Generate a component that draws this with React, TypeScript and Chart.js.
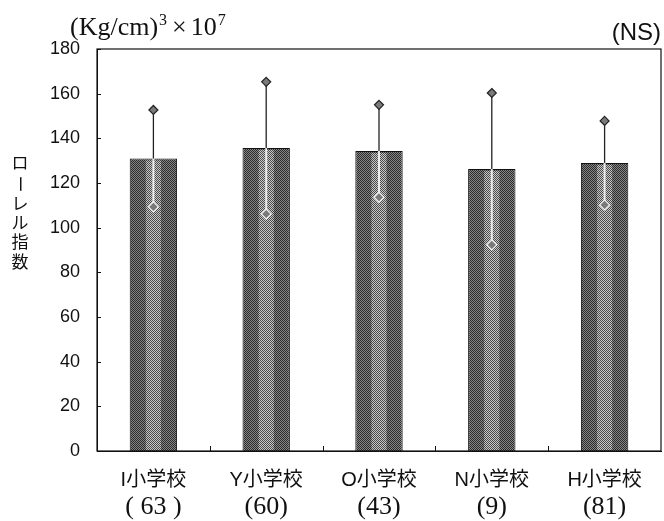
import React, { useEffect, useRef } from "react";
import { Chart, registerables } from "chart.js";

Chart.register(...registerables);

const categories = ["I小学校", "Y小学校", "O小学校", "N小学校", "H小学校"];
const sampleSizes = ["( 63 )", "(60)", "(43)", "(9)", "(81)"];
const means = [131, 135.7, 134.3, 126.3, 129];
const sds = [21.7, 29.6, 20.7, 34, 18.8];
const yTicks = [0, 20, 40, 60, 80, 100, 120, 140, 160, 180];
const yTitleChars = ["ロ", "ー", "レ", "ル", "指", "数"];

const SANS = '"Liberation Sans", "Noto Sans CJK JP", sans-serif';
const SERIF = '"Liberation Serif", "DejaVu Serif", serif';

function makePattern(a: string, b: string): CanvasPattern | string {
  const c = document.createElement("canvas");
  c.width = 2;
  c.height = 2;
  const g = c.getContext("2d");
  if (!g) return a;
  g.fillStyle = b;
  g.fillRect(0, 0, 2, 2);
  g.fillStyle = a;
  g.fillRect(0, 0, 1, 1);
  g.fillRect(1, 1, 1, 1);
  const p = g.createPattern(c, "repeat");
  return p || a;
}

function diamond(ctx: CanvasRenderingContext2D, x: number, y: number, r: number, fill: string, stroke: string) {
  ctx.beginPath();
  ctx.moveTo(x, y - r);
  ctx.lineTo(x + r, y);
  ctx.lineTo(x, y + r);
  ctx.lineTo(x - r, y);
  ctx.closePath();
  ctx.fillStyle = fill;
  ctx.fill();
  ctx.lineWidth = 1.2;
  ctx.strokeStyle = stroke;
  ctx.stroke();
}

const decorPlugin = {
  id: "decor",
  afterDatasetsDraw(chart: any) {
    const ctx: CanvasRenderingContext2D = chart.ctx;
    const area = chart.chartArea;
    const xs = chart.scales.x;
    const ys = chart.scales.y;
    ctx.save();
    // lighter speckled centre band of each bar
    const band = makePattern("#4a4a4a", "#c8c8c8");
    const meta = chart.getDatasetMeta(0);
    meta.data.forEach((bar: any) => {
      const w = bar.width * 0.32;
      ctx.fillStyle = band as any;
      ctx.fillRect(bar.x - w / 2, bar.y + 2, w, bar.base - bar.y - 3);
    });
    // frame
    ctx.strokeStyle = "#111";
    ctx.lineWidth = 1.2;
    ctx.strokeRect(area.left, area.top, area.right - area.left, area.bottom - area.top);
    // inward y ticks
    ctx.lineWidth = 1;
    yTicks.forEach((v) => {
      const y = Math.round(ys.getPixelForValue(v)) + 0.5;
      ctx.beginPath();
      ctx.moveTo(area.left, y);
      ctx.lineTo(area.left + 4, y);
      ctx.stroke();
    });
    // inward x ticks at category boundaries
    const n = categories.length;
    const cw = (area.right - area.left) / n;
    for (let i = 1; i < n; i++) {
      const x = Math.round(area.left + cw * i) + 0.5;
      ctx.beginPath();
      ctx.moveTo(x, area.bottom);
      ctx.lineTo(x, area.bottom - 5);
      ctx.stroke();
    }
    // error bars
    means.forEach((m, i) => {
      const x = xs.getPixelForValue(i);
      const yM = ys.getPixelForValue(m);
      const yT = ys.getPixelForValue(m + sds[i]);
      const yL = ys.getPixelForValue(m - sds[i]);
      ctx.strokeStyle = "rgba(240,240,240,0.95)";
      ctx.lineWidth = 2;
      ctx.beginPath();
      ctx.moveTo(x, yM);
      ctx.lineTo(x, yL);
      ctx.stroke();
      diamond(ctx, x, yL, 5, "#7a7a7a", "#f4f4f4");
      ctx.strokeStyle = "#222";
      ctx.lineWidth = 1.3;
      ctx.beginPath();
      ctx.moveTo(x, yM);
      ctx.lineTo(x, yT);
      ctx.stroke();
      diamond(ctx, x, yT, 4.5, "#7a7a7a", "#222");
    });
    // x labels
    ctx.fillStyle = "#111";
    ctx.textAlign = "center";
    ctx.textBaseline = "middle";
    categories.forEach((c, i) => {
      const x = xs.getPixelForValue(i);
      ctx.font = `20px ${SANS}`;
      ctx.fillText(c, x, area.bottom + 29);
      ctx.font = `26px ${SERIF}`;
      ctx.fillText(sampleSizes[i], x, area.bottom + 56);
    });
    // y title vertical
    ctx.font = `17px "Noto Sans CJK JP", sans-serif`;
    const yPos = [163, 184, 204, 223, 242, 262];
    yTitleChars.forEach((ch, i) => {
      if (ch === "ー") {
        ctx.save();
        ctx.translate(20, yPos[i]);
        ctx.rotate(Math.PI / 2);
        ctx.fillText(ch, 0, 0);
        ctx.restore();
      } else {
        ctx.fillText(ch, 20, yPos[i]);
      }
    });
    // unit label
    ctx.textAlign = "left";
    ctx.textBaseline = "alphabetic";
    let x0 = 70;
    const base = 35;
    ctx.font = `26px ${SERIF}`;
    ctx.fillText("(Kg/cm)", x0, base);
    x0 += ctx.measureText("(Kg/cm)").width + 1;
    ctx.font = `16px ${SERIF}`;
    ctx.fillText("3", x0, base - 10);
    x0 += ctx.measureText("3").width + 5;
    ctx.font = `26px ${SERIF}`;
    ctx.fillText("×", x0, base);
    x0 += ctx.measureText("×").width + 4;
    ctx.fillText("10", x0, base);
    x0 += ctx.measureText("10").width + 1;
    ctx.font = `16px ${SERIF}`;
    ctx.fillText("7", x0, base - 10);
    // NS
    ctx.textAlign = "right";
    ctx.textBaseline = "middle";
    ctx.font = `24px ${SANS}`;
    ctx.fillText("(NS)", 661, 33);
    ctx.restore();
  },
};

export default function App() {
  const ref = useRef<HTMLCanvasElement>(null);
  useEffect(() => {
    if (!ref.current) return;
    const chart = new Chart(ref.current, {
      type: "bar",
      data: {
        labels: categories,
        datasets: [
          {
            data: means,
            backgroundColor: makePattern("#2c2c2c", "#858585") as any,
            borderColor: "#111",
            borderWidth: 1,
            barPercentage: 0.42,
            categoryPercentage: 1,
          },
        ],
      },
      options: {
        responsive: false,
        animation: false,
        devicePixelRatio: 1,
        layout: { padding: { left: 0, top: 49, right: 3, bottom: 0 } },
        plugins: { legend: { display: false }, tooltip: { enabled: false }, title: { display: false } },
        scales: {
          x: {
            grid: { display: false, drawTicks: false },
            border: { display: true, color: "#111", width: 1 },
            ticks: { display: false },
            afterFit: (s: any) => {
              s.height = 70;
            },
          },
          y: {
            min: 0,
            max: 180,
            grid: { display: false, drawTicks: false },
            border: { display: true, color: "#111", width: 1 },
            afterBuildTicks: (s: any) => {
              s.ticks = yTicks.map((v) => ({ value: v }));
            },
            ticks: {
              padding: 17,
              color: "#111",
              font: { family: SANS, size: 18 },
            },
            afterFit: (s: any) => {
              s.width = 97;
            },
          },
        },
      },
      plugins: [decorPlugin],
    });
    return () => chart.destroy();
  }, []);
  return (
    <div style={{ position: "absolute", left: 0, top: 0, width: 664, height: 521, background: "#fff" }}>
      <canvas ref={ref} width={664} height={521} />
    </div>
  );
}
